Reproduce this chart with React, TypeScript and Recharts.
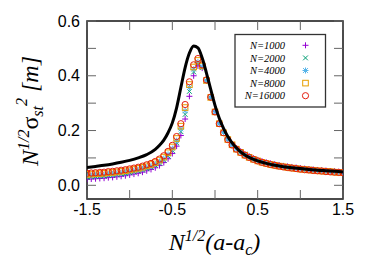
import React from "react";
import { ScatterChart, Scatter, XAxis, YAxis, ReferenceArea } from "recharts";

// x grid shared by all simulation series
const X = [
  -1.5, -1.45, -1.4, -1.35, -1.3, -1.25, -1.2, -1.15, -1.1, -1.05, -1, -0.95, -0.9, -0.85, -0.8, -0.75,
  -0.7, -0.65, -0.6, -0.55, -0.5, -0.45, -0.4, -0.35, -0.3, -0.25, -0.2, -0.15, -0.1, -0.05, 0,
  0.05, 0.1, 0.15, 0.2, 0.25, 0.3, 0.35, 0.4, 0.45, 0.5, 0.55, 0.6, 0.65, 0.7, 0.75, 0.8, 0.85,
  0.9, 0.95, 1, 1.05, 1.1, 1.15, 1.2, 1.25, 1.3, 1.35, 1.4, 1.45, 1.5,
];

const N1000 = [
  0.022, 0.023, 0.024, 0.025, 0.026, 0.028, 0.029, 0.031, 0.033, 0.035, 0.038, 0.041, 0.044, 0.048, 0.053, 0.058,
  0.064, 0.072, 0.083, 0.097, 0.116, 0.143, 0.182, 0.242, 0.325, 0.4, 0.436, 0.428, 0.382, 0.322, 0.27,
  0.228, 0.195, 0.17, 0.151, 0.136, 0.124, 0.114, 0.106, 0.099, 0.093, 0.088, 0.084, 0.08, 0.077, 0.074, 0.071, 0.069,
  0.067, 0.065, 0.063, 0.061, 0.059, 0.058, 0.056, 0.055, 0.054, 0.052, 0.051, 0.05, 0.049,
];
const N2000 = [
  0.03, 0.031, 0.032, 0.033, 0.034, 0.036, 0.037, 0.039, 0.041, 0.043, 0.046, 0.049, 0.052, 0.056, 0.061, 0.066,
  0.073, 0.081, 0.092, 0.107, 0.127, 0.155, 0.196, 0.259, 0.343, 0.414, 0.444, 0.43, 0.381, 0.32, 0.268,
  0.226, 0.193, 0.168, 0.149, 0.134, 0.122, 0.112, 0.104, 0.097, 0.091, 0.086, 0.082, 0.078, 0.075, 0.072, 0.069, 0.067,
  0.065, 0.063, 0.061, 0.059, 0.058, 0.056, 0.055, 0.054, 0.052, 0.051, 0.05, 0.049, 0.048,
];
const N4000 = [
  0.035, 0.036, 0.037, 0.038, 0.039, 0.041, 0.042, 0.044, 0.046, 0.048, 0.051, 0.054, 0.057, 0.061, 0.066, 0.071,
  0.078, 0.087, 0.098, 0.113, 0.134, 0.163, 0.206, 0.272, 0.357, 0.424, 0.45, 0.433, 0.382, 0.321, 0.268,
  0.226, 0.193, 0.168, 0.148, 0.133, 0.121, 0.111, 0.103, 0.096, 0.09, 0.085, 0.081, 0.077, 0.074, 0.071, 0.068, 0.066,
  0.064, 0.062, 0.06, 0.058, 0.057, 0.055, 0.054, 0.053, 0.051, 0.05, 0.049, 0.048, 0.047,
];
const N8000 = [
  0.04, 0.041, 0.042, 0.043, 0.044, 0.046, 0.047, 0.049, 0.051, 0.053, 0.056, 0.059, 0.062, 0.066, 0.071, 0.076,
  0.083, 0.092, 0.103, 0.119, 0.14, 0.171, 0.216, 0.284, 0.368, 0.432, 0.456, 0.436, 0.383, 0.321, 0.268,
  0.225, 0.192, 0.167, 0.148, 0.132, 0.12, 0.11, 0.102, 0.095, 0.089, 0.084, 0.08, 0.076, 0.073, 0.07, 0.068, 0.065,
  0.063, 0.061, 0.059, 0.058, 0.056, 0.055, 0.053, 0.052, 0.051, 0.05, 0.048, 0.047, 0.046,
];
const N16000 = [
  0.044, 0.045, 0.046, 0.047, 0.048, 0.05, 0.051, 0.053, 0.055, 0.057, 0.06, 0.063, 0.066, 0.07, 0.075, 0.08,
  0.087, 0.096, 0.108, 0.124, 0.146, 0.178, 0.225, 0.295, 0.378, 0.44, 0.463, 0.44, 0.385, 0.322, 0.268,
  0.225, 0.192, 0.167, 0.147, 0.132, 0.12, 0.11, 0.102, 0.095, 0.089, 0.084, 0.08, 0.076, 0.073, 0.07, 0.067, 0.065,
  0.063, 0.061, 0.059, 0.057, 0.056, 0.054, 0.053, 0.052, 0.05, 0.049, 0.048, 0.047, 0.046,
];

// thick black curve (limit / theory)
const CURVE_X = [
  -1.5, -1.4, -1.3, -1.2, -1.1, -1, -0.9, -0.8, -0.7, -0.65, -0.6, -0.55, -0.5, -0.45, -0.4, -0.35, -0.3, -0.25,
  -0.2, -0.15, -0.1, -0.05, 0, 0.05, 0.1, 0.15, 0.2, 0.25, 0.3, 0.35, 0.4, 0.5, 0.6, 0.7, 0.8, 0.9, 1, 1.1, 1.2,
  1.3, 1.4, 1.5,
];
const CURVE_Y = [
  0.065, 0.069, 0.073, 0.078, 0.084, 0.091, 0.1, 0.112, 0.131, 0.146, 0.165, 0.192, 0.228, 0.283, 0.357, 0.43, 0.483, 0.509,
  0.502, 0.465, 0.41, 0.35, 0.292, 0.245, 0.208, 0.178, 0.155, 0.137, 0.122, 0.111, 0.102, 0.089, 0.08, 0.073, 0.068, 0.064, 0.061, 0.058, 0.055,
  0.053, 0.051, 0.049,
];

const X_LABEL_TICKS = [-1.5, -0.5, 0.5, 1.5];
const X_ALL_TICKS = [-1.5, -1, -0.5, 0, 0.5, 1, 1.5];
const Y_LABEL_TICKS = [0, 0.2, 0.4, 0.6];
const Y_ALL_TICKS = [0, 0.1, 0.2, 0.3, 0.4, 0.5, 0.6];

type Kind = "plus" | "cross" | "star" | "square" | "circle";

const SERIES: { name: string; values: number[]; kind: Kind; color: string }[] = [
  { name: "N=1000", values: N1000, kind: "plus", color: "#9400d3" },
  { name: "N=2000", values: N2000, kind: "cross", color: "#009e73" },
  { name: "N=4000", values: N4000, kind: "star", color: "#56b4e9" },
  { name: "N=8000", values: N8000, kind: "square", color: "#e69f00" },
  { name: "N=16000", values: N16000, kind: "circle", color: "#e51e10" },
];

function Marker({ kind, cx, cy, color }: { kind: Kind; cx: number; cy: number; color: string }) {
  const s = 3;
  const d = 2.4;
  if (kind === "plus")
    return (
      <g stroke={color} strokeWidth={1}>
        <line x1={cx - s} x2={cx + s} y1={cy} y2={cy} />
        <line x1={cx} x2={cx} y1={cy - s} y2={cy + s} />
      </g>
    );
  if (kind === "cross")
    return (
      <g stroke={color} strokeWidth={1}>
        <line x1={cx - d} x2={cx + d} y1={cy - d} y2={cy + d} />
        <line x1={cx - d} x2={cx + d} y1={cy + d} y2={cy - d} />
      </g>
    );
  if (kind === "star")
    return (
      <g stroke={color} strokeWidth={1}>
        <line x1={cx - s} x2={cx + s} y1={cy} y2={cy} />
        <line x1={cx} x2={cx} y1={cy - s} y2={cy + s} />
        <line x1={cx - d} x2={cx + d} y1={cy - d} y2={cy + d} />
        <line x1={cx - d} x2={cx + d} y1={cy + d} y2={cy - d} />
      </g>
    );
  if (kind === "square")
    return <rect x={cx - 2.8} y={cy - 2.8} width={5.6} height={5.6} fill="none" stroke={color} strokeWidth={1} />;
  return <circle cx={cx} cy={cy} r={3.1} fill="none" stroke={color} strokeWidth={1} />;
}

const W = 374;
const H = 262;
const M = { top: 21, right: 31, bottom: 33, left: 57 };
const AXIS_W = 30; // y axis band
const AXIS_H = 30; // x axis band
const PLOT_W = W - M.left - M.right - AXIS_W;
const PLOT_H = H - M.top - M.bottom - AXIS_H;
const TICK = 9;
const sans = "'Liberation Sans', Arial, sans-serif";
const serif = "'Liberation Serif', 'Times New Roman', serif";

const near = (list: number[], v: number) => list.some((t) => Math.abs(t - v) < 1e-6);

// bottom axis tick: inward tick at bottom and top of the frame, plus label
function XTick(props: any) {
  const { x, y, payload } = props;
  const v = payload.value as number;
  return (
    <g>
      <line x1={x} x2={x} y1={y} y2={y - TICK} stroke="#666" />
      <line x1={x} x2={x} y1={y - PLOT_H} y2={y - PLOT_H + TICK} stroke="#666" />
      {near(X_LABEL_TICKS, v) && (
        <text x={x} y={y + 5} dy="0.71em" textAnchor="middle" fontFamily={sans} fontSize={16} fill="#000">
          {v.toFixed(1)}
        </text>
      )}
    </g>
  );
}

// left axis tick: inward tick at left and right of the frame, plus label
function YTick(props: any) {
  const { x, y, payload } = props;
  const v = payload.value as number;
  return (
    <g>
      <line x1={x} x2={x + TICK} y1={y} y2={y} stroke="#666" />
      <line x1={x + PLOT_W} x2={x + PLOT_W - TICK} y1={y} y2={y} stroke="#666" />
      {near(Y_LABEL_TICKS, v) && (
        <text x={x - 7} y={y} dy="0.355em" textAnchor="end" fontFamily={sans} fontSize={16} fill="#000">
          {v.toFixed(1)}
        </text>
      )}
    </g>
  );
}

export default function App() {
  const curve = CURVE_X.map((x, i) => ({ x, y: CURVE_Y[i] }));

  return (
    <div style={{ position: "absolute", left: 0, top: 0, width: W, height: H, background: "#fff" }}>
      <ScatterChart width={W} height={H} margin={M}>
        <XAxis xAxisId="b" orientation="bottom" type="number" dataKey="x" domain={[-1.5, 1.5]} allowDataOverflow
          ticks={X_ALL_TICKS} interval={0} height={AXIS_H} tickSize={0} tickMargin={0} tickLine={false}
          axisLine={false} tick={<XTick />} />
        <YAxis yAxisId="l" orientation="left" type="number" dataKey="y" domain={[-0.05, 0.6]} allowDataOverflow
          ticks={Y_ALL_TICKS} interval={0} width={AXIS_W} tickSize={0} tickMargin={0} tickLine={false}
          axisLine={false} tick={<YTick />} />

        {SERIES.map((s) => (
          <Scatter
            key={s.name}
            name={s.name}
            xAxisId="b"
            yAxisId="l"
            data={X.map((x, i) => ({ x, y: s.values[i] }))}
            isAnimationActive={false}
            shape={(p: any) => <Marker kind={s.kind} cx={p.cx} cy={p.cy} color={s.color} />}
          />
        ))}
        <Scatter
          name="curve"
          xAxisId="b"
          yAxisId="l"
          data={curve}
          isAnimationActive={false}
          line={{ stroke: "#000", strokeWidth: 3 }}
          lineJointType="monotoneX"
          shape={() => <g />}
        />
        <ReferenceArea xAxisId="b" yAxisId="l" x1={-1.5} x2={1.5} y1={-0.05} y2={0.6}
          fill="none" fillOpacity={0} stroke="#111" strokeWidth={1.5} ifOverflow="visible" />
      </ScatterChart>

      <svg width={W} height={H} style={{ position: "absolute", left: 0, top: 0, pointerEvents: "none" }}>
        {/* legend */}
        <rect x={235} y={34.5} width={90.5} height={72.5} fill="#fff" stroke="#333" strokeWidth={1.3} />
        {SERIES.map((s, i) => (
          <g key={s.name}>
            <text x={285} y={49 + i * 12.6} textAnchor="end" fontFamily={serif} fontStyle="italic" fontSize={10.5} fill="#000">
              {s.name}
            </text>
            <Marker kind={s.kind} cx={305.5} cy={45.3 + i * 12.6} color={s.color} />
          </g>
        ))}

        {/* y title */}
        <text transform="translate(38,111) rotate(-90)" textAnchor="middle" fontFamily={serif} fontStyle="italic" fontSize={24} fill="#000">
          N
          <tspan dy={-9} fontSize={16}>1/2</tspan>
          <tspan dy={9} fontStyle="normal">σ</tspan>
          <tspan dy={5} fontSize={16}>st</tspan>
          <tspan dy={-16} fontSize={16}>2</tspan>
          <tspan dy={11}> [m]</tspan>
        </text>

        {/* x title */}
        <text x={214.5} y={250} textAnchor="middle" fontFamily={serif} fontStyle="italic" fontSize={24} fill="#000">
          N
          <tspan dy={-9} fontSize={16}>1/2</tspan>
          <tspan dy={9}>(a-a</tspan>
          <tspan dy={5} fontSize={16}>c</tspan>
          <tspan dy={-5}>)</tspan>
        </text>
      </svg>
    </div>
  );
}
